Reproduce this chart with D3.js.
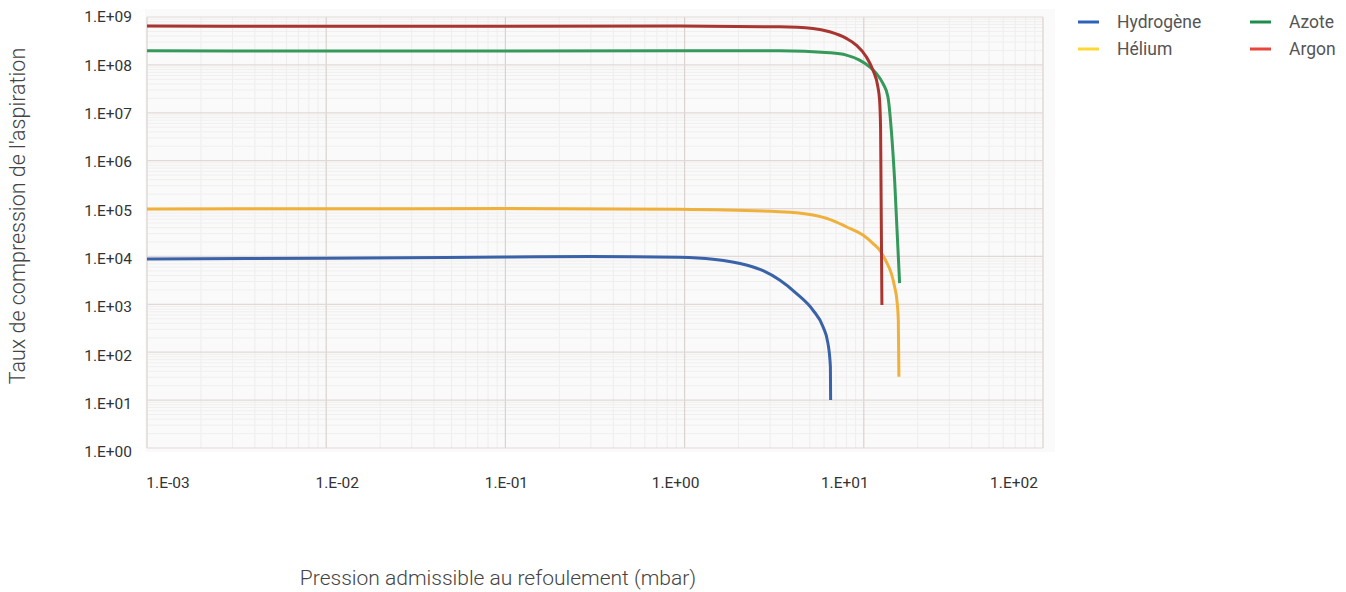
<!DOCTYPE html>
<html>
<head>
<meta charset="utf-8">
<script src="https://cdn.jsdelivr.net/npm/d3@7"></script>
<style>
  html, body { margin: 0; padding: 0; background: #ffffff; }
  svg { display: block; font-family: Roboto, "Noto Sans", sans-serif; }
</style>
</head>
<body>
<svg id="chart" width="1346" height="592"></svg>
<script>
// ---- data ----
const seriesNames = ["Hydrogène", "Hélium", "Azote", "Argon"];
const xTickLabels = ["1.E-03", "1.E-02", "1.E-01", "1.E+00", "1.E+01", "1.E+02"];
const yTickLabels = ["1.E+00", "1.E+01", "1.E+02", "1.E+03", "1.E+04", "1.E+05", "1.E+06", "1.E+07", "1.E+08", "1.E+09"];

const hydrogenP = [0.001, 0.01, 0.1, 0.3, 0.94, 1.44, 2.21, 2.74, 3.39, 4.20, 5.20, 5.92, 6.31, 6.51, 6.53];
const hydrogenR = [8.8e3, 9.2e3, 9.7e3, 1.0e4, 9.58e3, 8.7e3, 6.61e3, 5.03e3, 3.21e3, 1.70e3, 760, 341, 153, 49.8, 10];

const heliumP = [0.001, 0.01, 0.1, 0.94, 3.39, 5.20, 6.45, 7.99, 9.89, 11.24, 12.25, 13.35, 14.24, 14.86, 15.30, 15.58, 15.70];
const heliumR = [9.8e4, 9.9e4, 1.0e5, 9.62e4, 8.57e4, 7.31e4, 5.95e4, 4.17e4, 2.80e4, 1.88e4, 1.36e4, 7.75e3, 4.44e3, 2.33e3, 1.23e3, 470, 30.8];

const azoteP = [0.001, 0.01, 0.1, 0.94, 3.39, 6.45, 7.99, 9.47, 10.77, 11.74, 12.78, 13.63, 14.24, 14.86, 15.84];
const azoteR = [1.97e8, 1.95e8, 1.95e8, 1.97e8, 1.97e8, 1.79e8, 1.60e8, 1.26e8, 9.13e7, 6.64e7, 4.11e7, 2.16e7, 4.35e6, 3.94e5, 2.78e3];

const argonP = [0.001, 0.01, 0.1, 0.94, 3.39, 5.20, 6.45, 7.99, 9.08, 10.32, 11.24, 11.98, 12.25, 12.41, 12.62];
const argonR = [6.5e8, 6.4e8, 6.4e8, 6.46e8, 6.25e8, 5.78e8, 4.91e8, 3.57e8, 2.59e8, 1.48e8, 7.79e7, 3.49e7, 1.84e7, 4.35e6, 967];

const lineColors = ["#3a62a8", "#f0b03c", "#34995a", "#a8352f"];
const legendColors = ["#2d62b8", "#fdd835", "#1e8e4e", "#e8453c"];

// ---- chart ----
const svg = d3.select("#chart");
const x = d3.scaleLog().domain([1e-3, 1e2]).range([147, 1043]);
const y = d3.scaleLog().domain([1, 1e9]).range([448, 17]);
const xLabel = d3.scalePoint().domain(xTickLabels).range([168, 1014]);
const yLabel = d3.scalePoint().domain(yTickLabels).range([452, 17]);

// panel background
svg.append("rect")
  .attr("x", x.range()[0] - 2).attr("y", y.range()[1] - 8)
  .attr("width", x.range()[1] - x.range()[0] + 14)
  .attr("height", y.range()[0] - y.range()[1] + 12)
  .attr("fill", "#fafafa");

const grid = svg.append("g");
// minor grid
const minorX = [], minorY = [];
for (let e = -3; e < 2; e++) for (let k = 2; k <= 9; k++) minorX.push(k * Math.pow(10, e));
for (let e = 0; e < 9; e++) for (let k = 2; k <= 9; k++) minorY.push(k * Math.pow(10, e));
grid.selectAll("line.mx").data(minorX).join("line")
  .attr("x1", d => x(d)).attr("x2", d => x(d))
  .attr("y1", y.range()[1]).attr("y2", y.range()[0])
  .attr("stroke", "#efeded").attr("stroke-width", 1);
grid.selectAll("line.my").data(minorY).join("line")
  .attr("y1", d => y(d)).attr("y2", d => y(d))
  .attr("x1", x.range()[0]).attr("x2", x.range()[1])
  .attr("stroke", "#f1efee").attr("stroke-width", 1);
// major grid
const majorX = d3.range(-3, 3).map(e => Math.pow(10, e));
const majorY = d3.range(0, 10).map(e => Math.pow(10, e));
grid.selectAll("line.Mx").data(majorX).join("line")
  .attr("x1", d => x(d)).attr("x2", d => x(d))
  .attr("y1", y.range()[1]).attr("y2", y.range()[0])
  .attr("stroke", "#dad2cf").attr("stroke-width", 1.2);
grid.selectAll("line.My").data(majorY).join("line")
  .attr("y1", d => y(d)).attr("y2", d => y(d))
  .attr("x1", x.range()[0]).attr("x2", x.range()[1])
  .attr("stroke", "#e0d9d7").attr("stroke-width", 1.2);

// tick labels
svg.append("g").selectAll("text").data(xTickLabels).join("text")
  .attr("x", d => xLabel(d)).attr("y", 488)
  .attr("text-anchor", "middle")
  .attr("font-size", 15.5).attr("fill", "#333")
  .text(d => d);
svg.append("g").selectAll("text").data(yTickLabels).join("text")
  .attr("x", 132).attr("y", d => yLabel(d))
  .attr("dy", "0.35em")
  .attr("text-anchor", "end")
  .attr("font-size", 15.5).attr("fill", "#333")
  .text(d => d);

// axis titles
svg.append("text")
  .attr("x", 498).attr("y", 585)
  .attr("text-anchor", "middle")
  .attr("font-size", 21).attr("font-weight", 300).attr("fill", "#444")
  .text("Pression admissible au refoulement (mbar)");
svg.append("text")
  .attr("transform", "translate(25,216) rotate(-90)")
  .attr("text-anchor", "middle")
  .attr("font-size", 21.5).attr("font-weight", 300).attr("fill", "#444")
  .text("Taux de compression de l'aspiration");

// lines
const series = [
  { p: hydrogenP, r: hydrogenR },
  { p: heliumP, r: heliumR },
  { p: azoteP, r: azoteR },
  { p: argonP, r: argonR }
];
const line = d3.line()
  .x(d => x(d[0])).y(d => y(d[1]))
  .curve(d3.curveMonotoneX);
[1, 0, 2, 3].forEach(i => {
  const s = series[i];
  svg.append("path")
    .datum(d3.zip(s.p, s.r))
    .attr("d", line)
    .attr("fill", "none")
    .attr("stroke", lineColors[i])
    .attr("stroke-width", 3)
    .attr("stroke-linejoin", "round");
});

// legend
const legendPos = [[1078, 22], [1078, 49], [1250, 22], [1250, 49]];
const lg = svg.append("g").selectAll("g").data(seriesNames).join("g")
  .attr("transform", (d, i) => `translate(${legendPos[i][0]},${legendPos[i][1]})`);
lg.append("line").attr("x1", 0).attr("x2", 21).attr("y1", 0).attr("y2", 0)
  .attr("stroke", (d, i) => legendColors[i]).attr("stroke-width", 3);
lg.append("text").attr("x", 39).attr("dy", "0.35em")
  .attr("font-size", 17.5).attr("fill", "#555")
  .text(d => d);
</script>
</body>
</html>
